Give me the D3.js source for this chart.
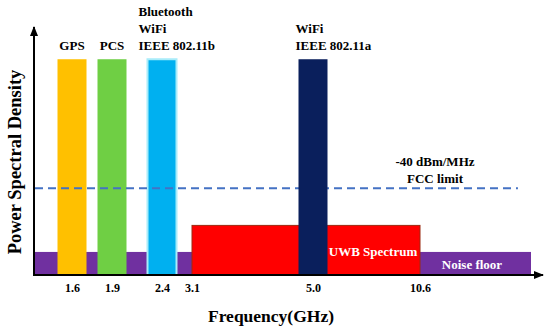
<!DOCTYPE html>
<html>
<head>
<meta charset="utf-8">
<script src="https://cdn.jsdelivr.net/npm/d3@7"></script>
<style>
  body { margin: 0; background: #fff; }
  text { font-family: "Liberation Serif", "Times New Roman", serif; font-weight: 700; }
</style>
</head>
<body>
<div class="center"></div>
<script>
// frequency ticks (GHz) - the axis is not to scale, so each tick gets its own slot
const tickValues = [1.6, 1.9, 2.4, 3.1, 5.0, 10.6];
const tickLabels = ["1.6", "1.9", "2.4", "3.1", "5.0", "10.6"];

// narrow band services: centre frequency, PSD level (arbitrary units 0-100)
const services = ["GPS", "PCS", "Bluetooth", "WiFi a"];
const serviceFreq = [1.6, 1.9, 2.4, 5.0];
const serviceLevel = [87, 87, 87, 87];
const serviceColor = ["#ffc000", "#6fcf44", "#00b0f0", "#0a1f5c"];
const serviceLabels = [["GPS"], ["PCS"], ["Bluetooth", "WiFi", "IEEE 802.11b"], ["WiFi", "IEEE 802.11a"]];

// wide bands: start, end, level
const uwbBand = [3.1, 10.6, 20];
const noiseBand = [0, 12.3, 9.3];
const fccLimit = [0, 12.1, 35];

const width = 550, height = 329;

// piecewise x scale (the picture spaces ticks unevenly)
const xScale = d3.scaleLinear()
  .domain([0, 1.6, 1.9, 2.4, 3.1, 5.0, 10.6, 12.3])
  .range([33, 72, 112, 162, 192, 313, 420, 531]);

const yScale = d3.scaleLinear().domain([0, 100]).range([275, 27]);

const barW = 29;

const svg = d3.select(".center").append("svg")
  .attr("width", width)
  .attr("height", height);

const defs = svg.append("defs");
defs.append("marker")
  .attr("id", "arrow")
  .attr("viewBox", "0 0 10 10")
  .attr("refX", 9).attr("refY", 5)
  .attr("markerWidth", 5).attr("markerHeight", 5)
  .attr("orient", "auto")
  .append("path")
  .attr("d", "M0,1 L10,5 L0,9 Z")
  .attr("fill", "#000");

// noise floor
svg.append("rect")
  .attr("x", xScale(noiseBand[0]))
  .attr("y", yScale(noiseBand[2]))
  .attr("width", xScale(noiseBand[1]) - xScale(noiseBand[0]))
  .attr("height", yScale(0) - yScale(noiseBand[2]))
  .style("fill", "#7030a0");

// UWB band
svg.append("rect")
  .attr("x", xScale(uwbBand[0]))
  .attr("y", yScale(uwbBand[2]))
  .attr("width", xScale(uwbBand[1]) - xScale(uwbBand[0]))
  .attr("height", yScale(0) - yScale(uwbBand[2]))
  .style("fill", "#ff0000")
  .style("stroke", "#9c2a10")
  .style("stroke-width", 1);

const bars = services.map((s, i) => ({name: s, f: serviceFreq[i], v: serviceLevel[i], c: serviceColor[i], lab: serviceLabels[i]}));

// narrow band bars (all but the 5 GHz one go under the dashed line)
function drawBars(data) {
  svg.selectAll(null)
    .data(data)
    .enter().append("rect")
    .attr("x", d => xScale(d.f) - barW / 2)
    .attr("y", d => yScale(d.v))
    .attr("width", barW)
    .attr("height", d => yScale(0) - yScale(d.v))
    .style("fill", d => d.c)
    .style("stroke", d => d.name === "Bluetooth" ? "#a8ecfa" : "none")
    .style("stroke-width", 2);
}
drawBars(bars.filter(d => d.f < 5));

// FCC limit
svg.append("line")
  .attr("x1", xScale(fccLimit[0]) + 2)
  .attr("x2", xScale(fccLimit[1]))
  .attr("y1", yScale(fccLimit[2]))
  .attr("y2", yScale(fccLimit[2]))
  .style("stroke", "#4472c4")
  .style("stroke-width", 2)
  .style("stroke-dasharray", "8,5");

drawBars(bars.filter(d => d.f >= 5));

// axes
svg.append("line")
  .attr("x1", 34).attr("y1", yScale(0))
  .attr("x2", 34).attr("y2", yScale(100))
  .style("stroke", "#000").style("stroke-width", 2)
  .attr("marker-end", "url(#arrow)");
svg.append("line")
  .attr("x1", 33).attr("y1", yScale(0))
  .attr("x2", 543).attr("y2", yScale(0))
  .style("stroke", "#000").style("stroke-width", 2)
  .attr("marker-end", "url(#arrow)");

const xAxis = d3.axisBottom(xScale)
  .tickValues(tickValues)
  .tickFormat((d, i) => tickLabels[i])
  .tickSize(0)
  .tickPadding(8);

svg.append("g")
  .attr("transform", `translate(0, ${yScale(0)})`)
  .call(xAxis)
  .call(g => g.select(".domain").remove())
  .selectAll("text")
  .style("font-family", "'Liberation Serif', serif")
  .style("font-weight", "700")
  .style("font-size", "12px")
  .attr("fill", "#000");

// service labels
bars.forEach(d => {
  const multi = d.lab.length > 1;
  const t = svg.append("text")
    .attr("text-anchor", multi ? "start" : "middle")
    .style("font-size", "13px")
    .attr("fill", "#000");
  const n = d.lab.length;
  d.lab.forEach((line, j) => {
    t.append("tspan")
      .attr("x", multi ? xScale(d.f) - barW / 2 - 9 + (d.f === 5.0 ? 6 : 0) : xScale(d.f))
      .attr("y", 50 - (n - 1 - j) * 17)
      .text(line);
  });
});

// FCC label
svg.append("text")
  .attr("x", 435).attr("y", 166)
  .attr("text-anchor", "middle")
  .style("font-size", "13px")
  .text("-40 dBm/MHz");
svg.append("text")
  .attr("x", 435).attr("y", 183)
  .attr("text-anchor", "middle")
  .style("font-size", "13px")
  .text("FCC limit");

// band labels
svg.append("text")
  .attr("x", 373).attr("y", 256)
  .attr("text-anchor", "middle")
  .style("font-size", "13px")
  .attr("fill", "#fff")
  .text("UWB Spectrum");
svg.append("text")
  .attr("x", 472).attr("y", 269)
  .attr("text-anchor", "middle")
  .style("font-size", "13px")
  .attr("fill", "#fff")
  .text("Noise floor");

// axis titles
svg.append("text")
  .attr("x", 271).attr("y", 322)
  .attr("text-anchor", "middle")
  .style("font-size", "17.5px")
  .text("Frequency(GHz)");
svg.append("text")
  .attr("transform", "rotate(-90)")
  .attr("x", -162).attr("y", 21)
  .attr("text-anchor", "middle")
  .style("font-size", "18.5px")
  .text("Power Spectral Density");
</script>
</body>
</html>
